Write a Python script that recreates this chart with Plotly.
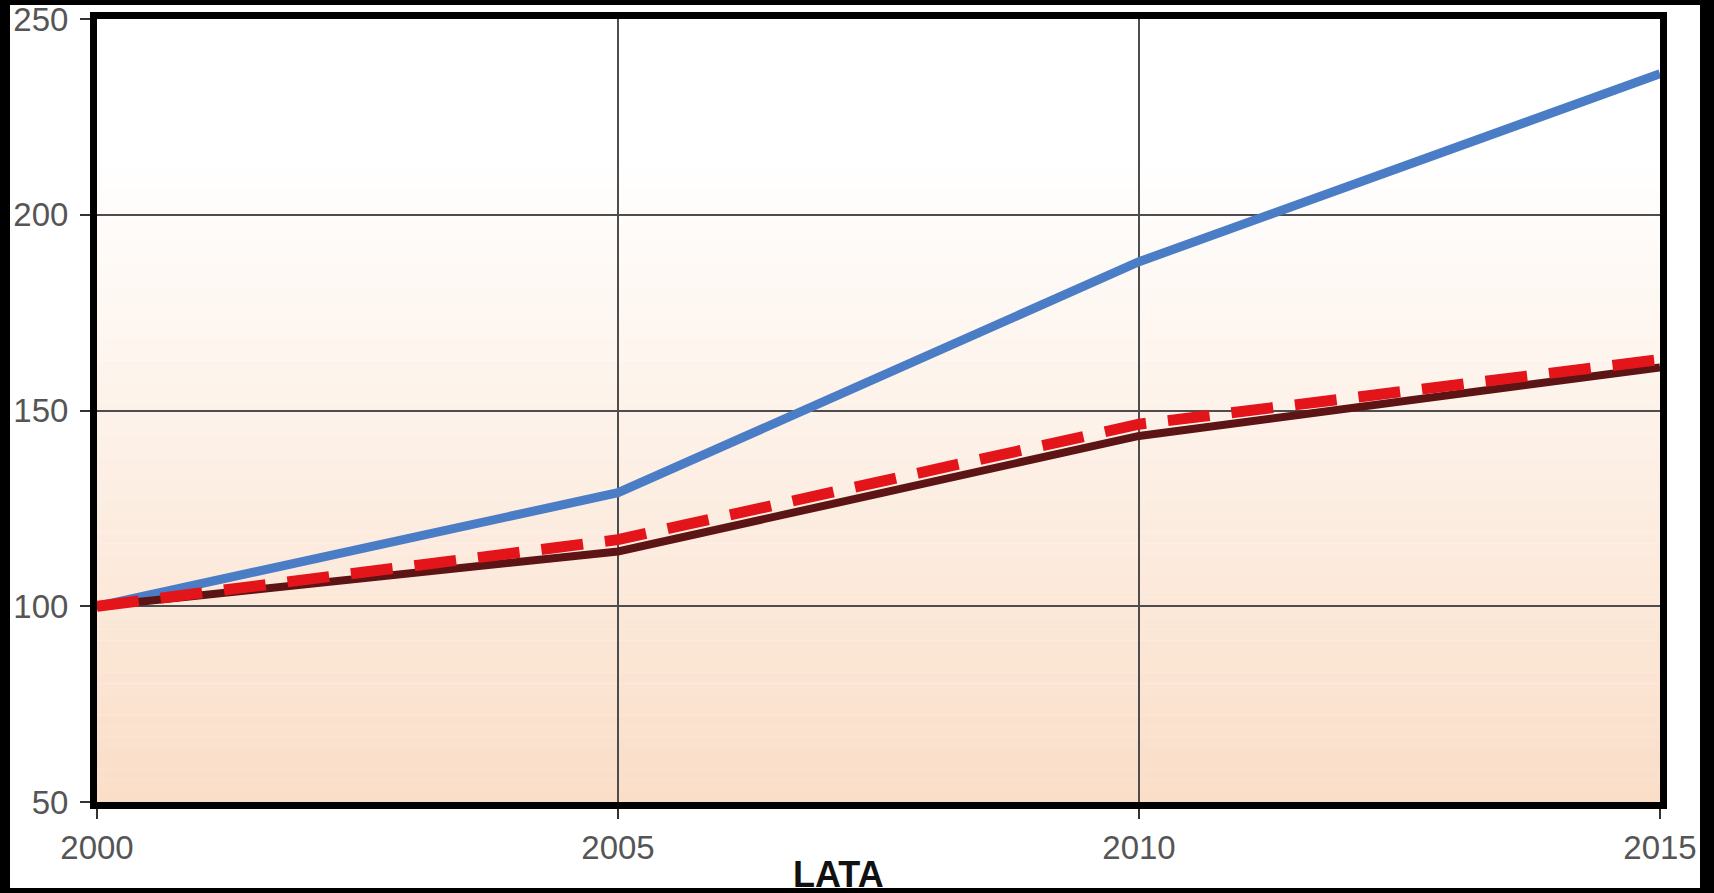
import plotly.graph_objects as go

# ---- data ----
years = [2000, 2005, 2010, 2015]
series_blue = [100, 129, 188, 236]
series_dark = [100, 114, 143.5, 161]
series_red = [100, 117, 146.5, 163]
x_ticks = [2000, 2005, 2010, 2015]
y_ticks = [50, 100, 150, 200, 250]
x_title = "LATA"

W, H = 1714, 893
L, R, T, B = 97, 54, 19, 91
PW, PH = W - L - R, H - T - B


def px(xp):
    return (xp - L) / PW


def py(yp):
    return (H - B - yp) / PH


fig = go.Figure()

fig.add_trace(go.Scatter(x=years, y=series_blue, mode="lines",
                         line=dict(color="#4A7DC6", width=9), showlegend=False))
fig.add_trace(go.Scatter(x=years, y=series_dark, mode="lines",
                         line=dict(color="#5C1414", width=8), showlegend=False))
fig.add_trace(go.Scatter(x=years, y=series_red, mode="lines",
                         line=dict(color="#E3151B", width=11, dash="42px,22px"),
                         showlegend=False))

shapes = []
# background gradient (white at top fading to peach at bottom)
peach = (250, 222, 200)
white = (255, 255, 255)
lo, hi, n = 50.0, 215.0, 60
step = (hi - lo) / n
for i in range(n):
    y0 = lo + i * step
    t = (i + 0.5) / n
    c = tuple(int(round(peach[k] + (white[k] - peach[k]) * t)) for k in range(3))
    shapes.append(dict(type="rect", xref="x", yref="y", x0=2000, x1=2015,
                       y0=y0, y1=y0 + step + 0.05, layer="below",
                       line=dict(width=0), fillcolor="rgb(%d,%d,%d)" % c))

# outer black frame
for (x0, x1, y0, y1) in [(0, 10, 0, H), (1700, W, 0, H), (0, W, 0, 5), (0, W, 888, H)]:
    shapes.append(dict(type="rect", xref="paper", yref="paper",
                       x0=px(x0), x1=px(x1), y0=py(y1), y1=py(y0),
                       line=dict(width=0), fillcolor="black", layer="above"))

fig.update_layout(
    width=W, height=H,
    margin=dict(l=L, r=R, t=T, b=B, pad=0, autoexpand=False),
    paper_bgcolor="white",
    plot_bgcolor="white",
    font=dict(family="Liberation Sans, Arial, sans-serif", size=33, color="#555555"),
    shapes=shapes,
    annotations=[dict(text="<b>" + x_title + "</b>", xref="paper", yref="paper",
                      x=px(838), y=py(852), xanchor="center", yanchor="top",
                      showarrow=False,
                      font=dict(size=36, color="#111111",
                                family="Liberation Sans, Arial, sans-serif"))],
)

fig.update_xaxes(range=[2000, 2015], tickvals=x_ticks, ticktext=[str(v) for v in x_ticks],
                 showgrid=True, gridcolor="#4d4d4d", gridwidth=2,
                 showline=True, linecolor="black", linewidth=7, mirror=True,
                 ticks="outside", ticklen=10, tickwidth=2, tickcolor="#333333",
                 zeroline=False, automargin=False)
fig.update_yaxes(range=[50, 250], tickvals=y_ticks, ticktext=[str(v) for v in y_ticks],
                 showgrid=True, gridcolor="#4d4d4d", gridwidth=2,
                 showline=True, linecolor="black", linewidth=7, mirror=True,
                 ticks="outside", ticklen=10, tickwidth=2, tickcolor="#333333",
                 ticklabelstandoff=5, zeroline=False, automargin=False)

fig.write_html("out.html", config={"displayModeBar": False},
               post_script="document.body.style.margin='0';document.body.style.overflow='hidden';")
